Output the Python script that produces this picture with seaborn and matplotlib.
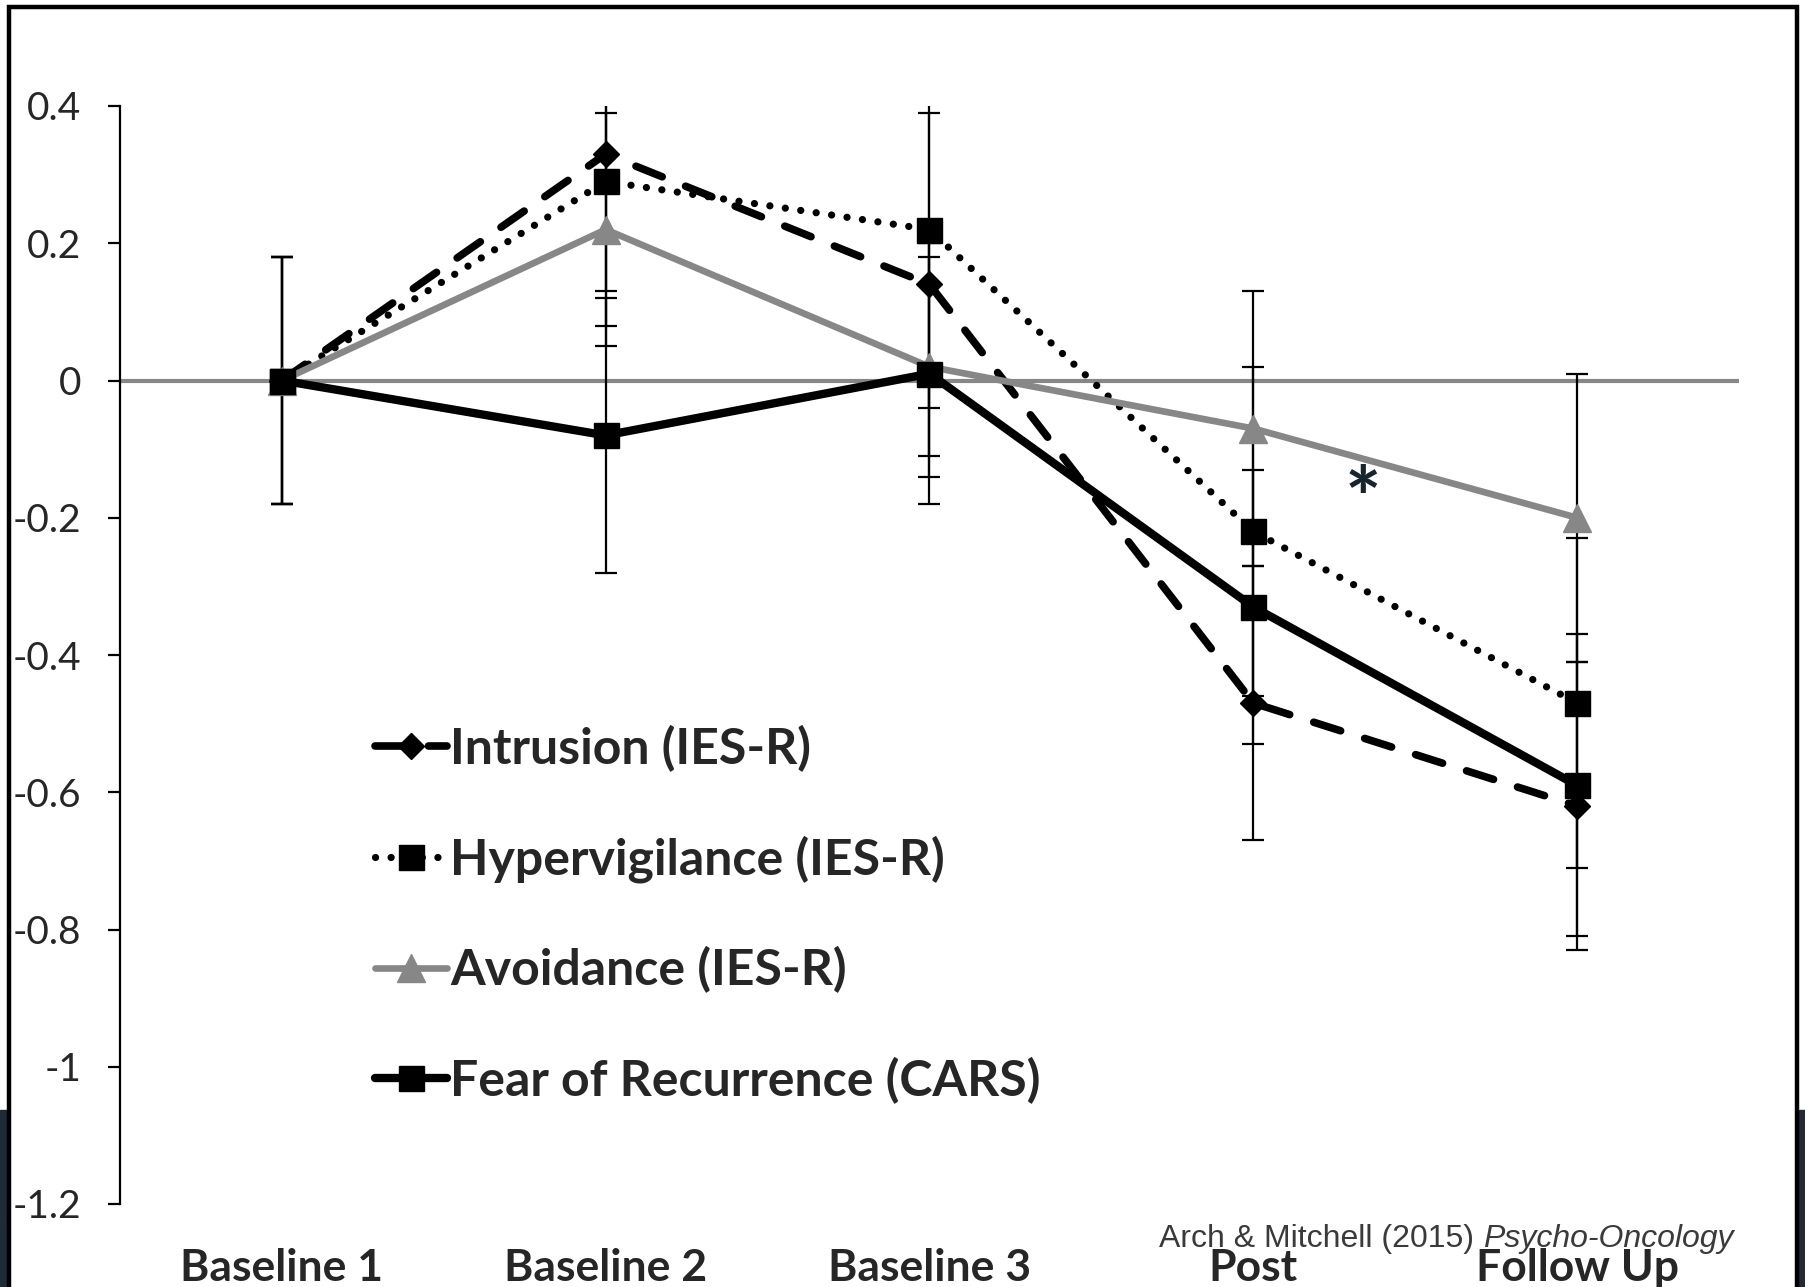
import numpy as np
import pandas as pd
import matplotlib
matplotlib.use("Agg")
import matplotlib.pyplot as plt
import seaborn as sns
from matplotlib.patches import Rectangle

# ---------------- data ----------------
categories = ["Baseline 1", "Baseline 2", "Baseline 3", "Post", "Follow Up"]
series_names = ["Intrusion (IES-R)", "Hypervigilance (IES-R)",
                "Avoidance (IES-R)", "Fear of Recurrence (CARS)"]

intrusion = [0.00, 0.33, 0.14, -0.47, -0.62]
hypervigilance = [0.00, 0.29, 0.22, -0.22, -0.47]
avoidance = [0.00, 0.22, 0.02, -0.07, -0.20]
fear_recurrence = [0.00, -0.08, 0.01, -0.33, -0.59]

intrusion_err = [0.18, 0.20, 0.25, 0.20, 0.21]
hypervigilance_err = [0.18, 0.21, 0.26, 0.24, 0.24]
avoidance_err = [0.18, 0.17, 0.16, 0.20, 0.21]
fear_recurrence_err = [0.18, 0.20, 0.19, 0.20, 0.22]

y_ticks = [0.4, 0.2, 0.0, -0.2, -0.4, -0.6, -0.8, -1.0, -1.2]
y_tick_labels = ["0.4", "0.2", "0", "-0.2", "-0.4", "-0.6", "-0.8", "-1", "-1.2"]

star_label = "*"
citation_regular = "Arch & Mitchell (2015) "
citation_italic = "Psycho-Oncology"

values = [intrusion, hypervigilance, avoidance, fear_recurrence]
errors = [intrusion_err, hypervigilance_err, avoidance_err, fear_recurrence_err]

x_pos = np.arange(len(categories))
df = pd.DataFrame({
    "x": np.tile(x_pos, len(series_names)),
    "value": np.concatenate(values),
    "series": np.repeat(series_names, len(categories)),
})

# ---------------- style ----------------
sns.set_style("white")
plt.rcParams["font.family"] = ["Lato", "DejaVu Sans"]
plt.rcParams["axes.unicode_minus"] = False

GREY = "#878787"
palette = dict(zip(series_names, ["black", "black", GREY, "black"]))
markers = dict(zip(series_names, ["D", "s", "^", "s"]))
dashes = dict(zip(series_names, [(3.7, 3.3), (0.01, 2.15), "", ""]))
lws = [5.5, 5.2, 4.8, 6.0]
msizes = [13, 18, 20, 18]

fig = plt.figure(figsize=(18.06, 12.87), dpi=100)
ax = fig.add_axes([120 / 1806, 1 - 1204 / 1287, (1739 - 120) / 1806, (1204 - 106) / 1287])

# error bars (beneath the lines)
for vals, errs in zip(values, errors):
    ax.errorbar(x_pos, vals, yerr=errs, fmt="none", ecolor="black",
                elinewidth=1.6, capsize=8, capthick=1.6, zorder=1.5)

# zero line
ax.axhline(0, color=GREY, lw=3.0, zorder=1.2)

sns.lineplot(data=df, x="x", y="value", hue="series", style="series",
             hue_order=series_names, style_order=series_names,
             palette=palette, markers=markers, dashes=dashes,
             errorbar=None, sort=False, legend=False, ax=ax, zorder=3)

series_lines = ax.lines[-4:]
for line, lw, ms in zip(series_lines, lws, msizes):
    line.set_linewidth(lw)
    line.set_markersize(ms)
    line.set_markeredgecolor(line.get_color())
    line.set_markerfacecolor(line.get_color())
    line.set_markeredgewidth(1.0)
    line.set_dash_capstyle("round")

ax.set_xlim(-0.5, len(categories) - 0.5)
ax.set_ylim(-1.2, 0.4)
ax.set_xticks(x_pos)
ax.set_xticklabels(categories, fontsize=32, fontweight="bold")
ax.set_yticks(y_ticks)
ax.set_yticklabels(y_tick_labels, fontsize=28)
ax.tick_params(axis="x", length=0, pad=31.5)
ax.tick_params(axis="y", left=True, direction="out", length=9, width=1.6,
               pad=19, color="black")
ax.set_xlabel("")
ax.set_ylabel("")
for side in ["top", "right", "bottom"]:
    ax.spines[side].set_visible(False)
ax.spines["left"].set_color("black")
ax.spines["left"].set_linewidth(1.6)

# legend
ax.legend(series_lines, series_names, loc="upper left",
          bbox_to_anchor=(0.1575, 0.4366), frameon=False,
          borderaxespad=0, borderpad=0, handlelength=1.45,
          handletextpad=0.05, labelspacing=1.27,
          prop={"family": ["Lato", "DejaVu Sans"], "weight": "bold", "size": 36})

# significance star
ax.text(3.34, -0.216, star_label, fontsize=62, fontweight="bold",
        color="#17252f", ha="center", va="baseline")

# citation
fig.text(1159 / 1806, 1 - 1247 / 1287, citation_regular, fontsize=23,
         family=["Liberation Sans", "DejaVu Sans"], color="#3a3a3a",
         ha="left", va="baseline")
fig.text(1483 / 1806, 1 - 1247 / 1287, citation_italic, fontsize=23,
         family=["Liberation Sans", "DejaVu Sans"], style="italic",
         color="#3a3a3a", ha="left", va="baseline")

# slide frame
fig.add_artist(Rectangle((1799 / 1806, -0.01), 8 / 1806, 1 - 1110 / 1287 + 0.01,
                         transform=fig.transFigure, color="#1f2b35", zorder=0))
fig.add_artist(Rectangle((0, -0.01), 8 / 1806, 1 - 1110 / 1287 + 0.01,
                         transform=fig.transFigure, color="#1f2b35", zorder=0))
fig.add_artist(Rectangle((9 / 1806, -0.05), 1788 / 1806, 1.05 - 7 / 1287,
                         transform=fig.transFigure, fill=False, edgecolor="black",
                         lw=3.2, zorder=10))

fig.savefig("out.png", dpi=100)
